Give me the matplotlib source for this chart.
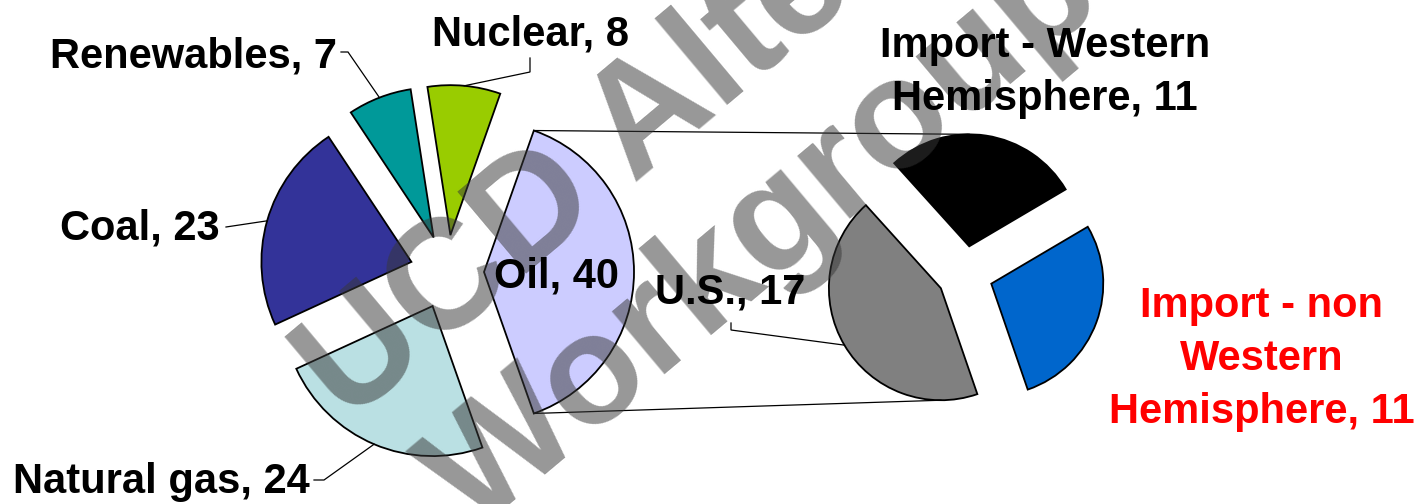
import math
import matplotlib.pyplot as plt

# main pie: energy sources (Oil is the slice split out into the second pie)
sources = ["Oil", "Nuclear", "Renewables", "Coal", "Natural gas"]
source_values = [40, 8, 7, 23, 24]
source_colors = ["#CCCCFF", "#99CC00", "#009999", "#333399", "#BAE0E3"]

# second pie: where the oil comes from
oil_parts = ["Import - non\nWestern\nHemisphere", "Import - Western\nHemisphere", "U.S."]
oil_values = [11, 11, 17]
oil_colors = ["#0066CC", "#000000", "#808080"]

watermark = ["UCD Alternative", "Workgroup"]

FONT = "Liberation Sans"
LINE_PITCH = 53


def arc_point(w, frac=0.5):
    th = math.radians(w.theta1 + frac * (w.theta2 - w.theta1))
    return w.center[0] + w.r * math.cos(th), w.center[1] + w.r * math.sin(th)


def put_label(x, y, text, ha="center", color="black"):
    # one text per line so the line pitch matches the original
    for i, line in enumerate(text.split("\n")):
        ax.text(x, y - i * LINE_PITCH, line, ha=ha, va="baseline", color=color,
                fontsize=30, fontweight="bold", family=FONT, zorder=4)


def leader(points):
    xs, ys = zip(*points)
    ax.plot(xs, ys, color="black", linewidth=0.9, zorder=2, solid_joinstyle="miter")


fig = plt.figure(figsize=(14.23, 5.04), dpi=100)
ax = fig.add_axes([0, 0, 1, 1])

total = sum(source_values)
edge = dict(edgecolor="black", linewidth=1.3)
main, _ = ax.pie(source_values, colors=source_colors, radius=150, center=(447, 232),
                 explode=[37] * len(source_values),
                 startangle=-180 * source_values[0] / total, wedgeprops=edge)
sub, _ = ax.pie(oil_values, colors=oil_colors, radius=112, center=(965, 230),
                explode=[28] * len(oil_values), startangle=-71, wedgeprops=edge)

ax.set_xlim(0, 1423)
ax.set_ylim(0, 504)
ax.set_aspect("equal")
ax.axis("off")

# lines joining the oil slice to the second pie
oil = main[0]
black_w, gray_w = sub[1], sub[2]
leader([arc_point(oil, 1.0), (black_w.center[0], black_w.center[1] + black_w.r)])
leader([arc_point(oil, 0.0), (gray_w.center[0], gray_w.center[1] - gray_w.r)])

# data labels
lab = [f"{n}, {v}" for n, v in zip(sources, source_values)]
put_label(557, 216, lab[0])
put_label(530, 459, lab[1])
leader([(530, 446), (530, 432), arc_point(main[1])])
put_label(337, 437, lab[2], ha="right")
leader([(341, 452), (348, 452), arc_point(main[2])])
put_label(220, 264, lab[3], ha="right")
leader([(226, 277), arc_point(main[3])])
put_label(310, 11, lab[4], ha="right")
leader([(314, 24), (324, 24), arc_point(main[4])])

sub_lab = [f"{n}, {v}" for n, v in zip(oil_parts, oil_values)]
put_label(1262, 187, sub_lab[0], color="#FF0000")
put_label(1045, 447, sub_lab[1])
put_label(730, 200, sub_lab[2])
leader([(731, 181), (731, 174), arc_point(gray_w)])

# watermark
ax.text(347, 80, watermark[0], rotation=40, rotation_mode="anchor", ha="left",
        va="baseline", fontsize=112, fontweight="bold", family=FONT,
        color="#383838", alpha=0.52, zorder=3)
ax.text(475, -30, watermark[1], rotation=40, rotation_mode="anchor", ha="left",
        va="baseline", fontsize=112, fontweight="bold", family=FONT,
        color="#383838", alpha=0.52, zorder=3)

fig.savefig("out.png", dpi=100)
